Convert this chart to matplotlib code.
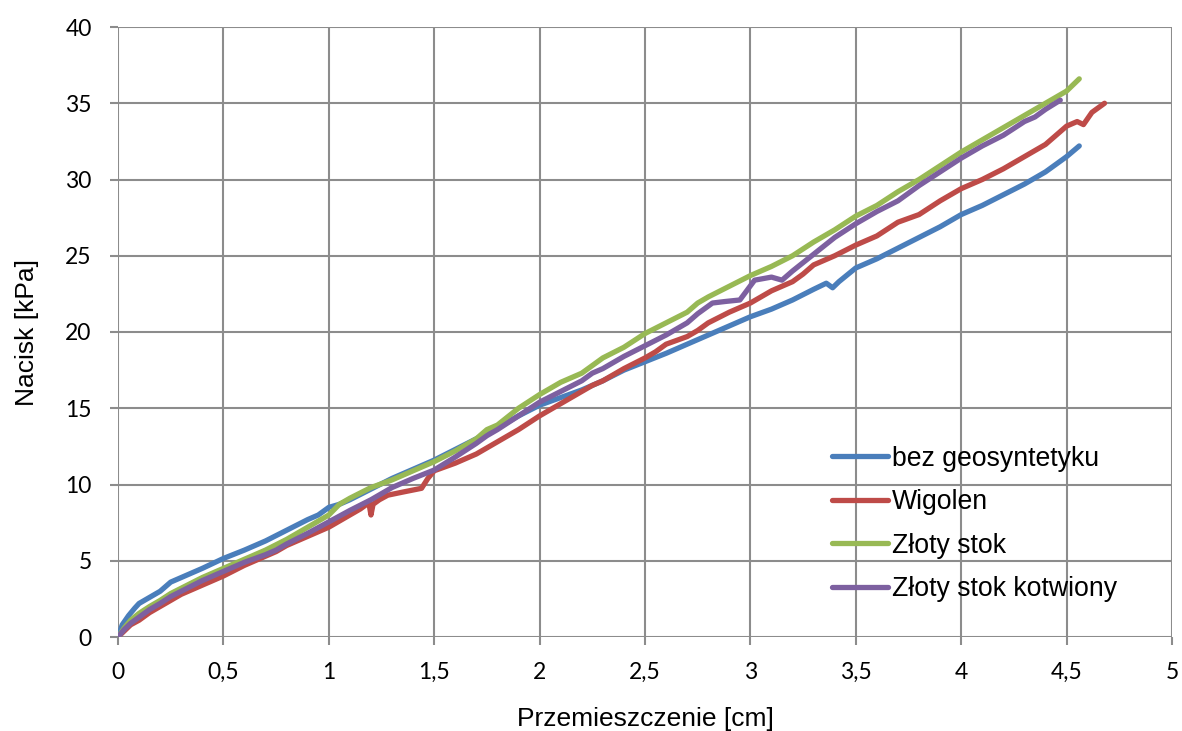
import numpy as np
import matplotlib.pyplot as plt

# displacement [cm] and pressure [kPa]
x_bez = [0, 0.02, 0.05, 0.08, 0.1, 0.15, 0.2, 0.25, 0.3, 0.4, 0.5, 0.6, 0.7, 0.8, 0.9, 0.95,
         1.0, 1.05, 1.1, 1.2, 1.3, 1.4, 1.5, 1.6, 1.7, 1.8, 1.9, 2.0, 2.1, 2.2, 2.3, 2.4, 2.5,
         2.6, 2.7, 2.8, 2.9, 3.0, 3.1, 3.2, 3.3, 3.36, 3.39, 3.42, 3.5, 3.6, 3.7, 3.8, 3.9, 4.0,
         4.1, 4.2, 4.3, 4.4, 4.5, 4.56]
y_bez = [0, 0.8, 1.4, 1.9, 2.2, 2.6, 3.0, 3.6, 3.9, 4.5, 5.15, 5.7, 6.3, 7.0, 7.7, 8.0,
         8.5, 8.7, 9.0, 9.7, 10.4, 11.0, 11.6, 12.3, 13.0, 13.7, 14.5, 15.2, 15.7, 16.2, 16.8, 17.5, 18.05,
         18.6, 19.2, 19.8, 20.4, 21.0, 21.5, 22.1, 22.8, 23.2, 22.9, 23.3, 24.2, 24.8, 25.5, 26.2, 26.9, 27.7,
         28.3, 29.0, 29.7, 30.5, 31.5, 32.2]

x_wig = [0, 0.03, 0.06, 0.1, 0.15, 0.2, 0.25, 0.3, 0.4, 0.5, 0.6, 0.7, 0.75, 0.8, 0.9, 1.0,
         1.05, 1.1, 1.15, 1.19, 1.2, 1.21, 1.24, 1.28, 1.35, 1.44, 1.47, 1.5, 1.6, 1.7, 1.8, 1.9,
         2.0, 2.1, 2.25, 2.3, 2.4, 2.5, 2.55, 2.6, 2.7, 2.75, 2.8, 2.9, 3.0, 3.1, 3.2, 3.25,
         3.3, 3.4, 3.5, 3.6, 3.7, 3.8, 3.9, 4.0, 4.1, 4.2, 4.3, 4.4, 4.5, 4.55, 4.58, 4.62, 4.68]
y_wig = [0, 0.4, 0.8, 1.1, 1.6, 2.0, 2.4, 2.8, 3.4, 4.0, 4.7, 5.3, 5.6, 6.0, 6.6, 7.2,
         7.6, 8.0, 8.4, 8.8, 8.0, 8.7, 9.0, 9.3, 9.5, 9.75, 10.4, 10.9, 11.4, 12.0, 12.8, 13.6,
         14.5, 15.3, 16.5, 16.8, 17.6, 18.3, 18.7, 19.2, 19.7, 20.1, 20.6, 21.3, 21.9, 22.7, 23.3, 23.8,
         24.4, 25.0, 25.7, 26.3, 27.2, 27.7, 28.6, 29.4, 30.0, 30.7, 31.5, 32.3, 33.5, 33.8, 33.6, 34.4, 35.0]

x_zs = [0, 0.03, 0.06, 0.1, 0.15, 0.2, 0.25, 0.3, 0.4, 0.5, 0.6, 0.7, 0.8, 0.9, 1.0, 1.05,
        1.1, 1.2, 1.3, 1.4, 1.5, 1.6, 1.7, 1.75, 1.8, 1.9, 2.0, 2.1, 2.2, 2.25, 2.3, 2.4, 2.5,
        2.6, 2.7, 2.75, 2.8, 2.9, 3.0, 3.1, 3.2, 3.3, 3.4, 3.5, 3.6, 3.7, 3.8, 3.9, 4.0,
        4.1, 4.2, 4.3, 4.4, 4.5, 4.56]
y_zs = [0, 0.6, 1.1, 1.55, 2.0, 2.4, 2.85, 3.2, 3.9, 4.5, 5.1, 5.7, 6.4, 7.2, 8.0, 8.7,
        9.1, 9.8, 10.3, 10.9, 11.5, 12.2, 13.0, 13.6, 13.9, 15.0, 15.9, 16.7, 17.3, 17.8, 18.3, 19.0, 19.9,
        20.6, 21.3, 21.9, 22.3, 23.0, 23.7, 24.3, 25.0, 25.9, 26.7, 27.6, 28.3, 29.2, 30.0, 30.9, 31.8,
        32.6, 33.4, 34.2, 35.0, 35.8, 36.6]

x_zsk = [0, 0.03, 0.06, 0.1, 0.15, 0.2, 0.25, 0.3, 0.4, 0.5, 0.6, 0.7, 0.75, 0.8, 0.9, 1.0,
         1.1, 1.2, 1.25, 1.3, 1.4, 1.5, 1.6, 1.7, 1.75, 1.8, 1.9, 2.0, 2.1, 2.2, 2.25, 2.3, 2.4,
         2.5, 2.6, 2.7, 2.75, 2.82, 2.88, 2.95, 3.02, 3.1, 3.15, 3.2, 3.3, 3.4, 3.5, 3.6, 3.7,
         3.8, 3.9, 4.0, 4.1, 4.2, 4.3, 4.35, 4.4, 4.47]
y_zsk = [0, 0.5, 0.9, 1.3, 1.8, 2.2, 2.65, 3.0, 3.7, 4.3, 4.9, 5.4, 5.7, 6.1, 6.8, 7.55,
         8.3, 9.0, 9.4, 9.8, 10.4, 10.95, 11.8, 12.7, 13.2, 13.6, 14.5, 15.4, 16.1, 16.8, 17.3, 17.6, 18.4,
         19.1, 19.8, 20.6, 21.2, 21.9, 22.0, 22.1, 23.4, 23.6, 23.4, 24.0, 25.1, 26.2, 27.1, 27.9, 28.6,
         29.6, 30.5, 31.4, 32.2, 32.9, 33.8, 34.1, 34.6, 35.2]

labels = ["bez geosyntetyku", "Wigolen", "Złoty stok", "Złoty stok kotwiony"]
colors = ["#4A7EBB", "#BE4B48", "#98B954", "#7D60A0"]
xs = [x_bez, x_wig, x_zs, x_zsk]
ys = [y_bez, y_wig, y_zs, y_zsk]

fig = plt.figure(figsize=(11.82, 7.31), dpi=100)
ax = fig.add_axes([118/1182, 1-637/731, (1172-118)/1182, (637-27)/731])

for xv, yv, lab, c in zip(xs, ys, labels, colors):
    ax.plot(xv, yv, color=c, lw=3.8, label=lab, solid_capstyle="round", solid_joinstyle="round")

ax.set_xlim(0, 5)
ax.set_ylim(0, 40)
ax.set_xticks(np.arange(0, 5.01, 0.5))
ax.set_yticks(np.arange(0, 40.1, 5))
ax.set_xticklabels(["0", "0,5", "1", "1,5", "2", "2,5", "3", "3,5", "4", "4,5", "5"])
ax.grid(True, color="#8C8C8C", lw=1.5)
ax.set_axisbelow(True)
for s in ax.spines.values():
    s.set_visible(False)
ax.tick_params(length=6, width=1.5, color="#8C8C8C", labelsize=16.5)
ax.tick_params(axis="y", pad=13)
ax.tick_params(axis="x", pad=12)
for t in ax.get_xticklabels() + ax.get_yticklabels():
    t.set_fontfamily("Lato")

ax.set_xlabel("Przemieszczenie [cm]", fontsize=19, family="Liberation Sans", labelpad=17)
ax.set_ylabel("Nacisk [kPa]", fontsize=19, family="Liberation Sans", labelpad=19)

ax.legend(loc="center left", bbox_to_anchor=(819/1182, 1-524/731), bbox_transform=fig.transFigure,
          frameon=False, borderpad=0, handlelength=2.1, handletextpad=0.15, labelspacing=0.66,
          prop={"family": "Liberation Sans", "size": 19.2})

plt.savefig("out.png", dpi=100)
